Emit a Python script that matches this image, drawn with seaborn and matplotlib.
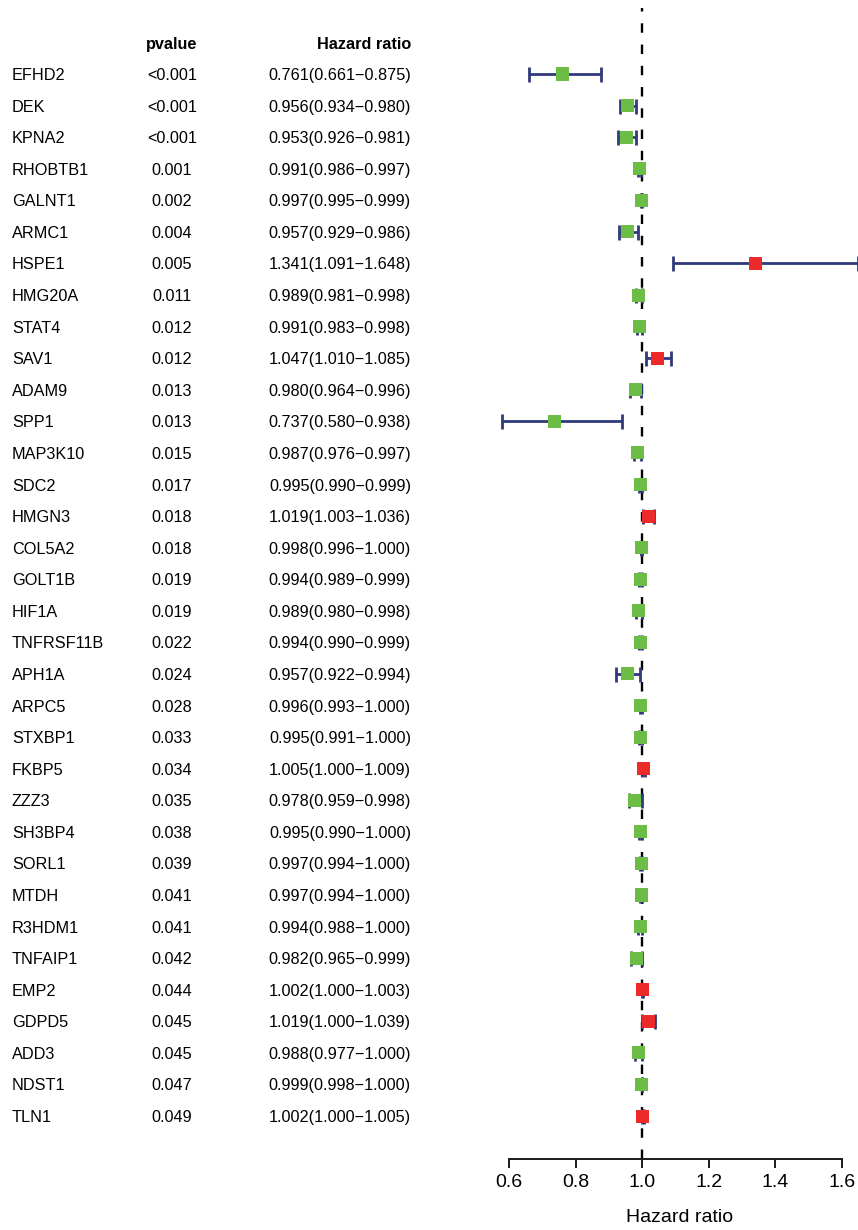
import numpy as np
import pandas as pd
import matplotlib
matplotlib.use("Agg")
import matplotlib.pyplot as plt
import seaborn as sns

# Univariate Cox regression results
genes = ["EFHD2", "DEK", "KPNA2", "RHOBTB1", "GALNT1", "ARMC1", "HSPE1", "HMG20A",
         "STAT4", "SAV1", "ADAM9", "SPP1", "MAP3K10", "SDC2", "HMGN3", "COL5A2",
         "GOLT1B", "HIF1A", "TNFRSF11B", "APH1A", "ARPC5", "STXBP1", "FKBP5", "ZZZ3",
         "SH3BP4", "SORL1", "MTDH", "R3HDM1", "TNFAIP1", "EMP2", "GDPD5", "ADD3",
         "NDST1", "TLN1"]
pvalues = ["<0.001", "<0.001", "<0.001", "0.001", "0.002", "0.004", "0.005", "0.011",
           "0.012", "0.012", "0.013", "0.013", "0.015", "0.017", "0.018", "0.018",
           "0.019", "0.019", "0.022", "0.024", "0.028", "0.033", "0.034", "0.035",
           "0.038", "0.039", "0.041", "0.041", "0.042", "0.044", "0.045", "0.045",
           "0.047", "0.049"]
hr = [0.761, 0.956, 0.953, 0.991, 0.997, 0.957, 1.341, 0.989,
      0.991, 1.047, 0.980, 0.737, 0.987, 0.995, 1.019, 0.998,
      0.994, 0.989, 0.994, 0.957, 0.996, 0.995, 1.005, 0.978,
      0.995, 0.997, 0.997, 0.994, 0.982, 1.002, 1.019, 0.988,
      0.999, 1.002]
hr_low = [0.661, 0.934, 0.926, 0.986, 0.995, 0.929, 1.091, 0.981,
          0.983, 1.010, 0.964, 0.580, 0.976, 0.990, 1.003, 0.996,
          0.989, 0.980, 0.990, 0.922, 0.993, 0.991, 1.000, 0.959,
          0.990, 0.994, 0.994, 0.988, 0.965, 1.000, 1.000, 0.977,
          0.998, 1.000]
hr_high = [0.875, 0.980, 0.981, 0.997, 0.999, 0.986, 1.648, 0.998,
           0.998, 1.085, 0.996, 0.938, 0.997, 0.999, 1.036, 1.000,
           0.999, 0.998, 0.999, 0.994, 1.000, 1.000, 1.009, 0.998,
           1.000, 1.000, 1.000, 1.000, 0.999, 1.003, 1.039, 1.000,
           1.000, 1.005]
x_ticks = [0.6, 0.8, 1.0, 1.2, 1.4, 1.6]

n = len(genes)
df = pd.DataFrame({"gene": genes, "pvalue": pvalues, "hr": hr,
                   "low": hr_low, "high": hr_high})
df["row"] = n - np.arange(n)
df["risk"] = np.where(df["hr"] > 1, "high", "low")
df["label"] = [f"{h:.3f}({l:.3f}\u2212{u:.3f})" for h, l, u in zip(hr, hr_low, hr_high)]

sns.set_theme(style="white")
plt.rcParams["font.family"] = ["Liberation Sans", "DejaVu Sans"]
plt.rcParams["text.color"] = "black"
plt.rcParams["axes.labelcolor"] = "black"
plt.rcParams["xtick.color"] = "black"

W, H = 858, 1230
fig = plt.figure(figsize=(W / 100, H / 100), dpi=100)

y_lo, y_hi = -0.36, n + 2.09
top_px, bot_px, split_px = 8, 1159, 502
ax_bottom = 1 - bot_px / H
ax_height = (bot_px - top_px) / H

# Table of gene names, p-values and hazard ratios
tab = fig.add_axes([0, ax_bottom, split_px / W, ax_height])
tab.set_xlim(0, split_px)
tab.set_ylim(y_lo, y_hi)
tab.axis("off")
fs = 11.7
va = "center_baseline"
header_y = n + 0.98
tab.text(172, header_y, "pvalue", ha="center", va=va, fontsize=fs, fontweight="bold")
tab.text(411, header_y, "Hazard ratio", ha="right", va=va, fontsize=fs, fontweight="bold")
for _, r in df.iterrows():
    tab.text(12, r["row"], r["gene"], ha="left", va=va, fontsize=fs)
    tab.text(172, r["row"], r["pvalue"], ha="center", va=va, fontsize=fs)
    tab.text(411, r["row"], r["label"], ha="right", va=va, fontsize=fs)

# Forest plot
ax = fig.add_axes([split_px / W, ax_bottom, 1 - split_px / W, ax_height])
ax.set_xlim(0.579, 1.648)
ax.set_ylim(y_lo, y_hi)
ax.axvline(1.0, color="black", lw=1.7, ls=(0, (4.0, 5.0)), zorder=1)
ax.errorbar(df["hr"], df["row"],
            xerr=[df["hr"] - df["low"], df["high"] - df["hr"]],
            fmt="none", ecolor="#30397a", elinewidth=2.0, capsize=5.4,
            capthick=2.0, zorder=2, clip_on=False)
sns.scatterplot(data=df, x="hr", y="row", hue="risk",
                palette={"high": "#ec2a2a", "low": "#6cbd45"},
                marker="s", s=88, linewidth=0, legend=False, ax=ax, zorder=3)

for side in ["top", "right", "left"]:
    ax.spines[side].set_visible(False)
ax.spines["bottom"].set_bounds(x_ticks[0], x_ticks[-1])
ax.spines["bottom"].set_color("#1a1a1a")
ax.spines["bottom"].set_linewidth(1.4)
ax.set_xticks(x_ticks)
ax.set_xticklabels([f"{t:.1f}" for t in x_ticks])
ax.tick_params(axis="x", direction="out", length=6.5, width=1.4, color="#1a1a1a",
               pad=4, labelsize=14, bottom=True)
ax.set_yticks([])
ax.set_xlabel("Hazard ratio", fontsize=14, labelpad=13)
ax.set_ylabel("")
ax.patch.set_alpha(0)

fig.savefig("out.png", dpi=100)
